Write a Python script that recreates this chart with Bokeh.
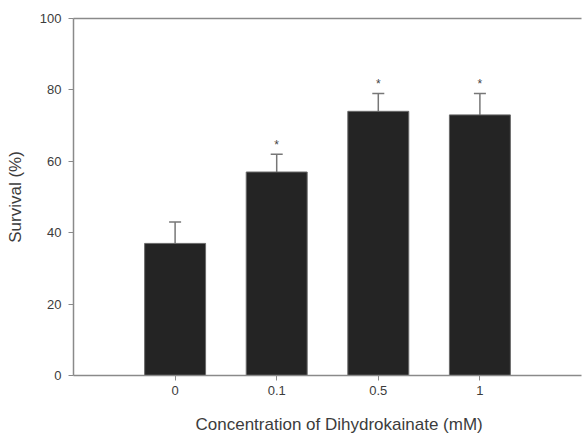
from bokeh.plotting import figure
from bokeh.models import Range1d, FixedTicker, ColumnDataSource, Whisker, TeeHead, LinearAxis, Title
from bokeh.core.properties import value
from bokeh.embed import file_html
from bokeh.resources import INLINE

categories = ["0", "0.1", "0.5", "1"]
survival = [37, 57, 74, 73]
error_top = [43, 62, 79, 79]
significant = ["", "*", "*", "*"]
y_ticks = [0, 20, 40, 60, 80, 100]

xs = list(range(len(categories)))
src = ColumnDataSource(dict(x=xs, top=survival, upper=error_top, star=significant))

FONT = "Liberation Sans"
AXIS_COLOR = "#8a8a8a"
TEXT_COLOR = "#3c3c3c"

p = figure(width=583, height=435, output_backend="svg", toolbar_location=None,
           x_range=Range1d(-1, 4), y_range=Range1d(0, 100),
           min_border_left=73, min_border_right=2, min_border_top=18, min_border_bottom=60)
p.grid.visible = False
p.background_fill_color = "white"
p.border_fill_color = "white"
p.outline_line_color = None

xaxis = p.below[0]
yaxis = p.left[0]

p.vbar(x="x", top="top", width=0.6, bottom=0, source=src,
       fill_color="#242424", line_color="#6a6a6a", line_width=1)

w = Whisker(base="x", lower="top", upper="upper", source=src,
            line_color="#777777", line_width=1.5,
            upper_head=TeeHead(size=12, line_color="#777777", line_width=1.5),
            lower_head=None)
p.add_layout(w)

p.text(x="x", y="upper", text="star", source=src, text_align="center",
       text_baseline="middle", y_offset=-9, text_font=value(FONT),
       text_font_size="12px", text_color="#444444")

top_axis = LinearAxis(ticker=FixedTicker(ticks=[]), major_label_text_font_size="0px",
                      major_label_standoff=0, major_tick_out=0, major_tick_in=0,
                      axis_line_color=AXIS_COLOR, axis_line_width=1.5,
                      major_tick_line_color=None, minor_tick_line_color=None)
p.add_layout(top_axis, "above")

for ax in (xaxis, yaxis):
    ax.axis_line_color = AXIS_COLOR
    ax.axis_line_width = 1.5
    ax.major_tick_line_color = AXIS_COLOR
    ax.major_tick_line_width = 1
    ax.major_tick_out = 5
    ax.major_tick_in = 0
    ax.minor_tick_line_color = None
    ax.major_label_text_font = FONT
    ax.major_label_text_font_size = "13px"
    ax.major_label_text_color = TEXT_COLOR
    ax.axis_label_text_font = FONT
    ax.axis_label_text_font_size = "17px"
    ax.axis_label_text_font_style = "normal"
    ax.axis_label_text_color = TEXT_COLOR

xaxis.ticker = FixedTicker(ticks=xs)
xaxis.major_label_overrides = {i: c for i, c in zip(xs, categories)}
xaxis.major_label_standoff = 5

p.add_layout(Title(text="Concentration of Dihydrokainate (mM)", align="left", offset=122,
                   vertical_align="bottom", standoff=2,
                   padding=dict(left=0, right=0, top=14, bottom=0),
                   text_font=FONT, text_font_size="17px", text_font_style="normal",
                   text_color=TEXT_COLOR), "below")

yaxis.ticker = FixedTicker(ticks=y_ticks)
yaxis.axis_label = "Survival (%)"
yaxis.major_label_standoff = 7
yaxis.axis_label_standoff = 12

open("out.html", "w").write(file_html(p, INLINE))
